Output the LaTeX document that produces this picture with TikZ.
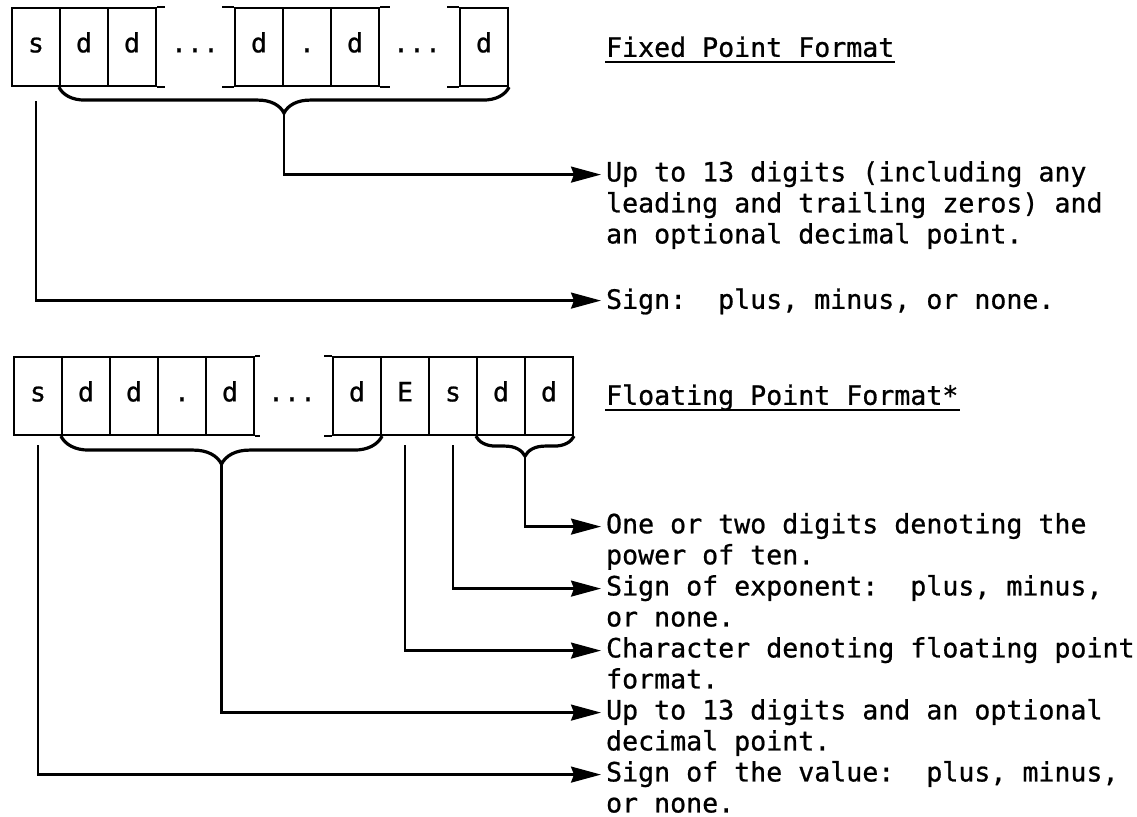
\documentclass[tikz,border=0pt]{standalone}
\usepackage{fontspec}
\setmonofont[FakeBold=0.8]{DejaVu Sans Mono}
\usetikzlibrary{arrows.meta,decorations.pathreplacing}

\begin{document}
\begin{tikzpicture}[x=0.5pt,y=-0.5pt,line width=1.1pt,
  every node/.style={font=\ttfamily\fontsize{13.3}{15.5}\selectfont},
  note/.style={anchor=north west,align=left,inner sep=0pt,execute at begin node=\strut},
  conn/.style={-{Stealth[length=15pt,width=8pt,inset=1.5pt]}},
  brace/.style={decorate,decoration={brace,mirror,amplitude=#1},line width=1.6pt}]
   \useasboundingbox (0,0) rectangle (1137,817);
   % fixed point
   \begin{scope}[every node/.append style={draw,minimum width=24pt,minimum height=39pt,inner sep=0pt,text height=1.5ex,text depth=0.25ex}]
    \node (fs) at (36,47) {s};
    \node (fd1) at (84,47) {d};
    \node (fd2) at (132,47) {d};
    \node (fd3) at (259,47) {d};
    \node (fpt) at (307,47) {.};
    \node (fd4) at (355,47) {d};
    \node (fd5) at (484,47) {d};
   \end{scope}
   \node[text height=1.5ex,text depth=0.25ex] (fdots1) at (195,47) {...};
   \node[text height=1.5ex,text depth=0.25ex] (fdots2) at (417,47) {...};
   \draw (fd2.north east) -- ++(8,0) (fd2.south east) -- ++(8,0);
   \draw (fd3.north west) -- ++(-12,0) (fd3.south west) -- ++(-12,0);
   \draw (fd4.north east) -- ++(10,0) (fd4.south east) -- ++(10,0);
   \draw (fd5.north west) -- ++(-12,0) (fd5.south west) -- ++(-12,0);
   \draw[brace=13pt] (fd1.south west) -- (fd5.south east);
   \coordinate (fixtip) at (284,113);

   \node[note] (fixtitle) at (605,34) {Fixed Point Format};
   \draw ([yshift=-2.5pt]fixtitle.base west) -- ([yshift=-2.5pt]fixtitle.base east);
   \node[note] (fixdig) at (605,160) {Up to 13 digits (including any\\leading and trailing zeros) and\\an optional decimal point.};
   \node[note] (fixsign) at (605,286) {Sign:~~plus, minus, or none.};
   \draw[conn] (fixtip) |- ([shift={(-2pt,-7.3pt)}]fixdig.north west);
   \draw[conn] ([yshift=-7pt]fs.south) |- ([shift={(-2pt,-7.3pt)}]fixsign.north west);

   % floating point
   \begin{scope}[every node/.append style={draw,minimum width=24pt,minimum height=39pt,inner sep=0pt,text height=1.5ex,text depth=0.25ex}]
    \node (gs) at (38,396) {s};
    \node (gd1) at (86,396) {d};
    \node (gd2) at (134,396) {d};
    \node (gpt) at (182,396) {.};
    \node (gd3) at (230,396) {d};
    \node (gd4) at (357,396) {d};
    \node (gE) at (405,396) {E};
    \node (gsx) at (453,396) {s};
    \node (gx1) at (501,396) {d};
    \node (gx2) at (549,396) {d};
   \end{scope}
   \node[text height=1.5ex,text depth=0.25ex] (gdots) at (292,396) {...};
   \draw (gd3.north east) -- ++(5,0) (gd3.south east) -- ++(5,0);
   \draw (gd4.north west) -- ++(-8,0) (gd4.south west) -- ++(-8,0);
   \draw[brace=14pt] (gd1.south west) -- (gd4.south east);
   \draw[brace=10pt] (gx1.south west) -- (gx2.south east);
   \coordinate (flttip) at (221.5,462);
   \coordinate (exptip) at (525,454);

   \node[note] (flttitle) at (605,382) {Floating Point Format*};
   \draw ([yshift=-2.5pt]flttitle.base west) -- ([yshift=-2.5pt]flttitle.base east);
   \node[note] (expdig) at (605,512) {One or two digits denoting the\\power of ten.};
   \node[note] (expsign) at (605,574) {Sign of exponent:~~plus, minus,\\or none.};
   \node[note] (echar) at (605,636) {Character denoting floating point\\format.};
   \node[note] (fltdig) at (605,698) {Up to 13 digits and an optional\\decimal point.};
   \node[note] (fltsign) at (605,760) {Sign of the value:~~plus, minus,\\or none.};
   \draw[conn] (exptip) |- ([shift={(-2pt,-7.3pt)}]expdig.north west);
   \draw[conn] ([yshift=-4.5pt]gsx.south) |- ([shift={(-2pt,-7.3pt)}]expsign.north west);
   \draw[conn] ([yshift=-4.5pt]gE.south) |- ([shift={(-2pt,-7.3pt)}]echar.north west);
   \draw[conn] (flttip) |- ([shift={(-2pt,-7.3pt)}]fltdig.north west);
   \draw[conn] ([yshift=-4.5pt]gs.south) |- ([shift={(-2pt,-7.3pt)}]fltsign.north west);
\end{tikzpicture}
\end{document}
